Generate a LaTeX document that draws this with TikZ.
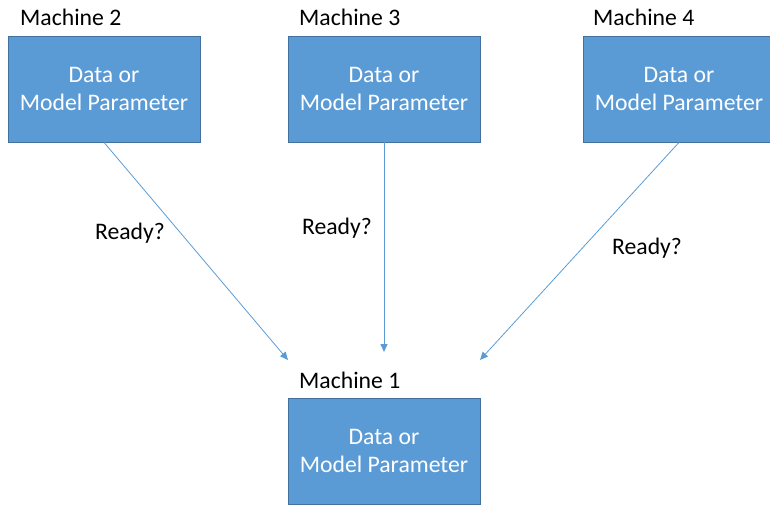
\documentclass[tikz,border=0pt]{standalone}
\usepackage{fontspec}
\setmainfont{Carlito}
\usetikzlibrary{positioning,arrows.meta}
\definecolor{boxblue}{HTML}{5B9BD5}
\definecolor{boxline}{HTML}{41719C}

\begin{document}
\begin{tikzpicture}[
  x=1pt, y=-1pt,
  machine/.style={minimum width=192pt, minimum height=106pt, draw=boxline, line width=0.8pt, fill=boxblue,
    text=white, align=center, inner sep=0pt, font=\fontsize{23.7}{28.5}\selectfont},
  title/.style={font=\fontsize{23.7}{28}\selectfont, inner sep=0pt, anchor=base west},
  ready/.style={font=\fontsize{23.7}{28}\selectfont, inner sep=0pt},
  link/.style={boxblue, line width=0.8pt, -{Triangle[length=8pt,width=7pt]}},
]
\useasboundingbox (0,0) rectangle (770,506);

% Senders
\node[machine] (m2) at (104,89) {Data or\\Model Parameter};
\node[machine] (m3) at (384,89) {Data or\\Model Parameter};
\node[machine] (m4) at (679,89) {Data or\\Model Parameter};

% Receiver
\node[machine] (m1) at (384,451) {Data or\\Model Parameter};

% Titles
\node[title] (t2) at (20,25) {Machine 2};
\node[title] (t3) at (299,25) {Machine 3};
\node[title] (t4) at (593,25) {Machine 4};
\node[title] (t1) at (299,388) {Machine 1};

% Arrow ends
\coordinate (e2) at (288,360);
\coordinate (e3) at (384,352);
\coordinate (e4) at (480,360);

\draw[link] (m2.south) -- (e2);
\draw[link] (m3.south) -- (e3);
\draw[link] (m4.south) -- (e4);

% Labels
\node[ready] (r2) at (130,233) {Ready?};
\node[ready] (r3) at (337,228) {Ready?};
\node[ready] (r4) at (647,248) {Ready?};

\end{tikzpicture}
\end{document}
